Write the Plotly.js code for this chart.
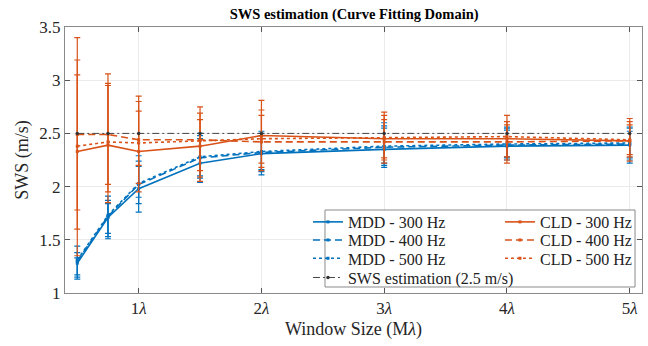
<!DOCTYPE html>
<html>
<head>
<meta charset="utf-8">
<script src="https://cdn.plot.ly/plotly-3.0.1.min.js"></script>
<style>html,body{margin:0;padding:0;background:#fff}</style>
</head>
<body>
<div id="chart" style="width:648px;height:346px"></div>
<script>
// Window size, in multiples of the wavelength
const windowSize = [0.5, 0.75, 1, 1.5, 2, 3, 4, 5];
const xTickValues = [1, 2, 3, 4, 5];
const xTickLabels = ['1<i>λ</i>', '2<i>λ</i>', '3<i>λ</i>', '4<i>λ</i>', '5<i>λ</i>'];
const yTickValues = [1, 1.5, 2, 2.5, 3, 3.5];

// MDD estimates (mean, upper and lower bound of the error bar)
const mdd300 = [1.28, 1.71, 1.98, 2.22, 2.31, 2.35, 2.38, 2.39];
const mdd300Upper = [1.44, 1.91, 2.19, 2.45, 2.48, 2.55, 2.53, 2.52];
const mdd300Lower = [1.13, 1.51, 1.76, 2.04, 2.11, 2.18, 2.25, 2.22];
const mdd400 = [1.30, 1.72, 2.02, 2.27, 2.32, 2.37, 2.39, 2.40];
const mdd400Upper = [1.38, 1.87, 2.24, 2.50, 2.52, 2.60, 2.55, 2.55];
const mdd400Lower = [1.15, 1.53, 1.84, 2.08, 2.14, 2.20, 2.27, 2.25];
const mdd500 = [1.31, 1.73, 2.03, 2.28, 2.33, 2.38, 2.40, 2.41];
const mdd500Upper = [1.33, 1.84, 2.29, 2.48, 2.50, 2.57, 2.56, 2.56];
const mdd500Lower = [1.17, 1.56, 1.90, 2.10, 2.16, 2.22, 2.28, 2.27];

// CLD estimates
const cld300 = [2.33, 2.39, 2.33, 2.38, 2.48, 2.45, 2.45, 2.43];
const cld300Upper = [3.40, 3.06, 2.85, 2.75, 2.81, 2.70, 2.67, 2.64];
const cld300Lower = [1.35, 1.85, 1.95, 2.05, 2.18, 2.25, 2.25, 2.24];
const cld400 = [2.49, 2.49, 2.44, 2.44, 2.42, 2.42, 2.42, 2.43];
const cld400Upper = [3.05, 2.97, 2.80, 2.69, 2.72, 2.67, 2.61, 2.61];
const cld400Lower = [1.78, 2.02, 2.03, 2.09, 2.15, 2.22, 2.22, 2.28];
const cld500 = [2.38, 2.42, 2.41, 2.43, 2.45, 2.46, 2.47, 2.44];
const cld500Upper = [3.19, 2.95, 2.71, 2.63, 2.67, 2.63, 2.58, 2.58];
const cld500Lower = [1.60, 1.95, 2.20, 2.15, 2.22, 2.27, 2.28, 2.30];

// Reference shear wave speed
const swsReference = [2.5, 2.5, 2.5, 2.5, 2.5, 2.5, 2.5, 2.5];

const BLUE = '#0072BD';
const ORANGE = '#D95319';
const SERIF = 'Liberation Serif, Times New Roman, serif';

function errorSeries(name, y, upper, lower, color, dash, legendId) {
  return {
    type: 'scatter', mode: 'lines+markers', name: name,
    x: windowSize, y: y, legend: legendId,
    line: {color: color, width: 1.6, dash: dash},
    marker: {color: color, size: 3, symbol: 'square'},
    error_y: {
      type: 'data', symmetric: false,
      array: upper.map((u, i) => u - y[i]),
      arrayminus: lower.map((l, i) => y[i] - l),
      color: color, thickness: 1.2, width: 3
    }
  };
}

const DASHED = '7px,4px';
const traces = [
  errorSeries('MDD - 300 Hz', mdd300, mdd300Upper, mdd300Lower, BLUE, 'solid', 'legend'),
  errorSeries('MDD - 400 Hz', mdd400, mdd400Upper, mdd400Lower, BLUE, DASHED, 'legend2'),
  errorSeries('MDD - 500 Hz', mdd500, mdd500Upper, mdd500Lower, BLUE, 'dot', 'legend3'),
  errorSeries('CLD - 300 Hz', cld300, cld300Upper, cld300Lower, ORANGE, 'solid', 'legend'),
  errorSeries('CLD - 400 Hz', cld400, cld400Upper, cld400Lower, ORANGE, DASHED, 'legend2'),
  errorSeries('CLD - 500 Hz', cld500, cld500Upper, cld500Lower, ORANGE, 'dot', 'legend3'),
  {
    type: 'scatter', mode: 'lines+markers', name: 'SWS estimation (2.5 m/s)',
    x: windowSize, y: swsReference, legend: 'legend4',
    line: {color: '#444', width: 1, dash: '7px,3px,2px,3px'},
    marker: {color: '#333', size: 3.5}
  }
];

// One horizontal legend per row so the two columns line up
function legendRow(yPos, entryWidth) {
  return {
    orientation: 'h', x: 0.4211, xanchor: 'left', y: yPos, yanchor: 'middle',
    bgcolor: 'rgba(0,0,0,0)', borderwidth: 0, entrywidth: entryWidth,
    font: {family: SERIF, size: 16, color: '#222'}
  };
}

const axisFont = {family: SERIF, size: 17, color: '#262626'};
const layout = {
  width: 648, height: 346,
  margin: {l: 65, r: 6, t: 27, b: 53, autoexpand: false},
  paper_bgcolor: '#fff', plot_bgcolor: '#fff',
  title: {
    text: '<b>SWS estimation (Curve Fitting Domain)</b>',
    font: {family: SERIF, size: 14.5, color: '#000'},
    x: 0.5465, xanchor: 'center', y: 0.96, yanchor: 'middle'
  },
  xaxis: {
    range: [0.4, 5.1], tickvals: xTickValues, ticktext: xTickLabels,
    ticks: 'inside', ticklen: 5, tickcolor: '#555',
    showline: true, linecolor: '#8a8a8a', linewidth: 1, mirror: 'ticks',
    showgrid: true, gridcolor: '#ebebeb', zeroline: false,
    tickfont: axisFont,
    title: {text: 'Window Size (M<i>λ</i>)', font: {family: SERIF, size: 18, color: '#262626'}, standoff: 4}
  },
  yaxis: {
    range: [1, 3.5], tickvals: yTickValues,
    ticks: 'inside', ticklen: 5, tickcolor: '#555',
    showline: true, linecolor: '#8a8a8a', linewidth: 1, mirror: 'ticks',
    showgrid: true, gridcolor: '#ebebeb', zeroline: false,
    tickfont: axisFont,
    title: {text: 'SWS (m/s)', font: {family: SERIF, size: 18, color: '#262626'}, standoff: 6}
  },
  legend: legendRow(0.267, 147),
  legend2: legendRow(0.199, 147),
  legend3: legendRow(0.130, 147),
  legend4: legendRow(0.058, 0),
  shapes: [{
    type: 'rect', xref: 'paper', yref: 'paper', layer: 'above',
    x0: 0.4506, x1: 0.9879, y0: 0.0226, y1: 0.312,
    line: {color: '#8a8a8a', width: 1}, fillcolor: '#fff'
  }],
  showlegend: true
};

Plotly.newPlot('chart', traces, layout, {displayModeBar: false, staticPlot: true});
</script>
</body>
</html>
